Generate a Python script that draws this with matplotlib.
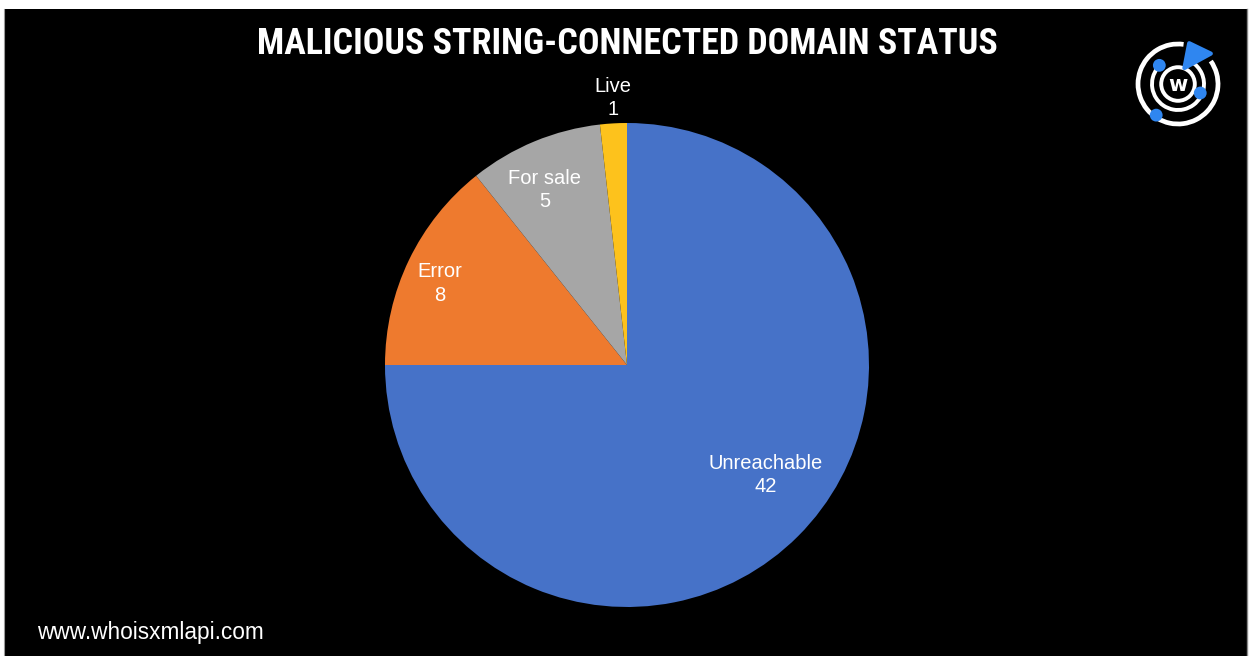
import numpy as np
import matplotlib
matplotlib.use("Agg")
import matplotlib.pyplot as plt
from matplotlib import font_manager
from matplotlib.patches import Rectangle, Circle, Arc, Polygon

# ---- data ----
categories = ["Unreachable", "Error", "For sale", "Live"]
counts = [42, 8, 5, 1]
colors = ["#4672C8", "#EE7A2E", "#A6A6A6", "#FDC21C"]
title = "MALICIOUS STRING-CONNECTED DOMAIN STATUS"
footer = "www.whoisxmlapi.com"

W, H = 1249, 656
fig = plt.figure(figsize=(W / 100, H / 100), dpi=100, facecolor="white")

# black panel with thin white margin
bg = fig.add_axes([0, 0, 1, 1])
bg.set_xlim(0, W)
bg.set_ylim(H, 0)
bg.axis("off")
bg.add_patch(Rectangle((4, 9), 1243, H - 9, facecolor="black", edgecolor="none"))
bg.plot([4, 4], [9, H], color="#9a9a9a", lw=0.8)
bg.plot([1247.5, 1247.5], [9, H], color="#8a8a8a", lw=1.0)

# pie
cx, cy, r = 627, 365, 242
ax = fig.add_axes([(cx - r) / W, (H - cy - r) / H, 2 * r / W, 2 * r / H])
wedges, _ = ax.pie(counts, colors=colors, startangle=90, counterclock=False,
                   radius=1.0, wedgeprops=dict(linewidth=0))
ax.set_xlim(-1, 1)
ax.set_ylim(-1, 1)
ax.set_aspect("auto")
ax.axis("off")

# label placement (distance from centre, angle in degrees)
label_pos = [(0.73, -38.5), (0.845, 156.5), (0.80, 115.2), (1.105, 93)]
for cat, val, (d, a) in zip(categories, counts, label_pos):
    t = np.deg2rad(a)
    ax.text(d * np.cos(t), d * np.sin(t), f"{cat}\n{val}", ha="center", va="center",
            color="white", fontsize=14.5, family="Liberation Sans",
            linespacing=1.28, clip_on=False)

# title: prefer a narrow font, fit to target width
names = {f.name for f in font_manager.fontManager.ttflist}
tfam = "Liberation Sans"
for cand in ["Liberation Sans Narrow", "Roboto Condensed", "Open Sans Condensed",
             "DejaVu Sans Condensed"]:
    if cand in names:
        tfam = cand
        break
tt = fig.text(627 / W, 1 - 44 / H, title, ha="center", va="center", color="white",
              fontsize=27, fontweight="bold", family=tfam)
fig.canvas.draw()
wpx = tt.get_window_extent().width
tt.set_fontsize(27 * 741 / wpx)

# footer
fig.text(37 / W, 1 - 632 / H, footer, ha="left", va="center", color="white",
         fontsize=16.3, family="Liberation Sans")

# logo
lx, ly, ls = 1178, 84, 104
lg = fig.add_axes([(lx - ls / 2) / W, (H - ly - ls / 2) / H, ls / W, ls / H])
lg.set_xlim(-1.3, 1.3)
lg.set_ylim(-1.3, 1.3)
lg.axis("off")
blue = "#2F86F0"
lg.add_patch(Arc((0, 0), 2.0, 2.0, theta1=82, theta2=395, color="white", lw=3.4))
lg.add_patch(Arc((0, 0), 1.3, 1.3, theta1=142, theta2=330, color="white", lw=2.8))
lg.add_patch(Arc((0, 0), 1.3, 1.3, theta1=-12, theta2=60, color="white", lw=2.8))
lg.add_patch(Circle((0, 0), 0.42, facecolor="black", edgecolor="white", lw=2.8))
lg.text(0, -0.02, "w", ha="center", va="center", color="white", fontsize=15,
        fontweight="bold", family="DejaVu Sans")
lg.add_patch(Polygon([[0.28, 1.02], [0.82, 0.76], [0.16, 0.4]], closed=True,
                     facecolor=blue, edgecolor=blue, lw=3, joinstyle="round"))
for (rr, aa) in [(0.66, 135), (0.6, -22), (0.95, -125)]:
    t = np.deg2rad(aa)
    lg.add_patch(Circle((rr * np.cos(t), rr * np.sin(t)), 0.16, facecolor=blue, edgecolor="none"))

fig.savefig("out.png", dpi=100, facecolor="white")
